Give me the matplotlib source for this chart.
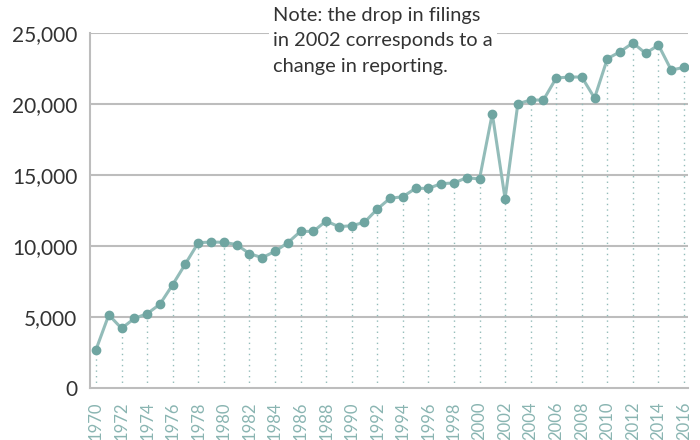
import matplotlib
matplotlib.use('Agg')
import matplotlib.pyplot as plt
from matplotlib.ticker import FuncFormatter

plt.rcParams['font.family'] = ['Lato', 'DejaVu Sans']

years = list(range(1970, 2017))
filings = [2700, 5150, 4200, 4900, 5230, 5900, 7280, 8750, 10230, 10280,
           10260, 10100, 9460, 9180, 9620, 10230, 11030, 11030, 11760, 11360,
           11430, 11670, 12600, 13360, 13470, 14060, 14060, 14390, 14440, 14810,
           14720, 19320, 13330, 20020, 20280, 20280, 21830, 21900, 21900, 20420,
           23190, 23680, 24300, 23570, 24150, 22390, 22580]
y_ticks = [0, 5000, 10000, 15000, 20000, 25000]
note = 'Note: the drop in filings\nin 2002 corresponds to a\nchange in reporting.'

line_col = '#93bcb9'
dot_col = '#6fa5a1'
grid_col = '#bdbdbd'

fig = plt.figure(figsize=(7, 4.4), dpi=100)
ax = fig.add_axes([90/700, 1 - 388/440, 598/700, 355/440])

# dotted drop lines at even years, from the axis up to the point
for yr, v in zip(years, filings):
    if yr % 2 == 0:
        ax.vlines(yr, 0, v, colors=line_col, linestyles=(0, (1, 3)), linewidth=1, zorder=1)

for t in y_ticks[1:]:
    ax.axhline(t, color=grid_col, linewidth=1.5, zorder=0)

ax.plot(years, filings, color=line_col, linewidth=2.2, zorder=2)
ax.plot(years, filings, 'o', color=dot_col, markersize=6, zorder=3)

ax.set_xlim(1969.53, 2016.31)
ax.set_ylim(0, 25000)
ax.set_yticks(y_ticks)
ax.yaxis.set_major_formatter(FuncFormatter(lambda v, p: f'{int(v):,}'))
ax.set_xticks([y for y in years if y % 2 == 0])
ax.set_xticklabels([str(y) for y in years if y % 2 == 0], rotation=90,
                   color='#8ab5b2', fontsize=12)
ax.tick_params(axis='y', length=0, pad=9, labelsize=15, labelcolor='#333333')
ax.tick_params(axis='x', length=0, pad=10)

for s in ['top', 'right']:
    ax.spines[s].set_visible(False)
for s in ['left', 'bottom']:
    ax.spines[s].set_color(grid_col)
    ax.spines[s].set_linewidth(1.5)

fig.text(273/700, 1 - 7/440, note, ha='left', va='top', fontsize=14.4,
         color='#333333', linespacing=1.6,
         bbox=dict(facecolor='white', edgecolor='none', pad=3))

fig.savefig('out.png', dpi=100)
